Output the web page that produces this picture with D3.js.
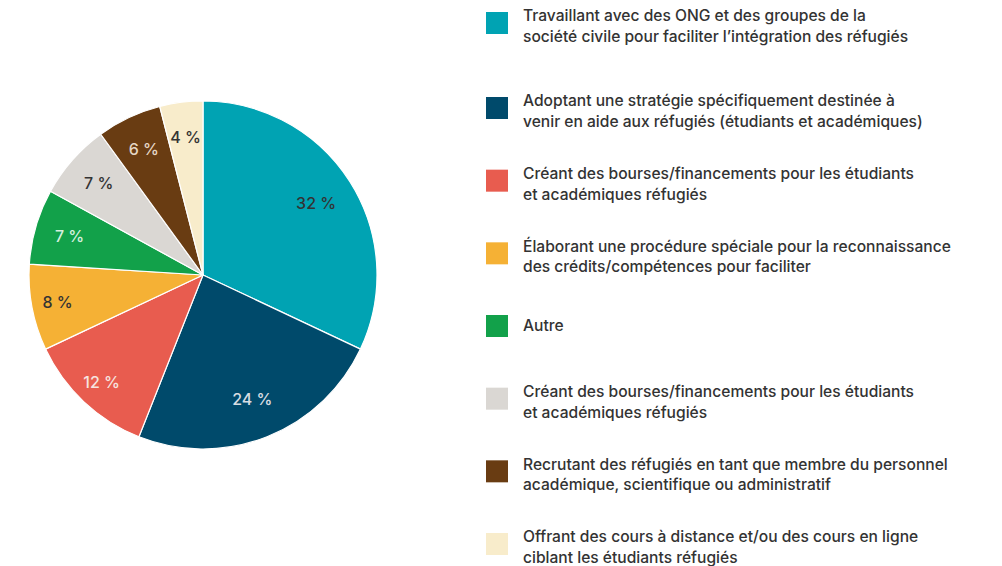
<!DOCTYPE html>
<html>
<head>
<meta charset="utf-8">
<script src="https://cdn.jsdelivr.net/npm/d3@7"></script>
<style>
  body { margin: 0; background: #fff; }
  svg { display: block; }
  text { font-family: Inter, "Open Sans", sans-serif; }
</style>
</head>
<body>
<svg width="1002" height="566"></svg>
<script>
var width = 1002
var height = 566

// parts of the pie, in drawing order (clockwise from the top)
var values = [32, 24, 12, 8, 7, 7, 6, 4]
var colors = ["#00a3b3", "#004a6b", "#e85c4f", "#f5b135", "#12a14a", "#dad7d3", "#693c12", "#f8eccb"]
var labelColors = ["#333333", "#d8dde2", "#f6e3df", "#333333", "#d6efdd", "#333333", "#e5d6c4", "#333333"]

var legendLines = [
  ["Travaillant avec des ONG et des groupes de la", "société civile pour faciliter l’intégration des réfugiés"],
  ["Adoptant une stratégie spécifiquement destinée à", "venir en aide aux réfugiés (étudiants et académiques)"],
  ["Créant des bourses/financements pour les étudiants", "et académiques réfugiés"],
  ["Élaborant une procédure spéciale pour la reconnaissance", "des crédits/compétences pour faciliter"],
  ["Autre"],
  ["Créant des bourses/financements pour les étudiants", "et académiques réfugiés"],
  ["Recrutant des réfugiés en tant que membre du personnel", "académique, scientifique ou administratif"],
  ["Offrant des cours à distance et/ou des cours en ligne", "ciblant les étudiants réfugiés"]
]

var svg = d3.select("svg")

var cx = 203, cy = 275, radius = 174

var pie = d3.pie().sort(null).value(function(d) { return d; })
var arcs = pie(values)

var arc = d3.arc().innerRadius(0).outerRadius(radius)
// small slices on the left carry their labels a bit further out
var labelR = function(d) { return d.data >= 24 ? 134 : (d.data >= 8 ? 148 : 139); }

var g = svg.append("g")
    .attr("transform", "translate(" + cx + "," + cy + ")")

g.selectAll(".slice")
  .data(arcs)
  .enter().append("path")
    .attr("class", "slice")
    .attr("d", arc)
    .attr("fill", function(d, i) { return colors[i]; })
    .attr("stroke", "#fff")
    .attr("stroke-width", 1.2)

g.selectAll(".lbl")
  .data(arcs)
  .enter().append("text")
    .attr("class", "lbl")
    .attr("transform", function(d) {
      var r = labelR(d)
      return "translate(" + d3.arc().innerRadius(r).outerRadius(r).centroid(d) + ")";
    })
    .attr("text-anchor", "middle")
    .attr("dy", "0.35em")
    .attr("font-size", 16)
    .attr("font-weight", 500)
    .attr("fill", function(d, i) { return labelColors[i]; })
    .text(function(d) { return d.data + " %"; })

// legend
var rowY = d3.scaleLinear().domain([1, 7]).range([108, 544])
function legendY(i) { return i === 0 ? 23 : rowY(i); }

var leg = svg.selectAll(".leg")
  .data(legendLines)
  .enter().append("g")
    .attr("class", "leg")
    .attr("transform", function(d, i) { return "translate(486," + legendY(i) + ")"; })

leg.append("rect")
    .attr("x", 0)
    .attr("y", -11)
    .attr("width", 22)
    .attr("height", 22)
    .attr("fill", function(d, i) { return colors[i]; })

leg.each(function(lines) {
  var t = d3.select(this).append("text")
      .attr("x", 37)
      .attr("font-size", 15.6)
      .attr("font-weight", 500)
      .attr("fill", "#333")
  var off = lines.length > 1 ? -7 : 0
  lines.forEach(function(line, k) {
    t.append("tspan")
      .attr("x", 37)
      .attr("y", off + k * 20.5)
      .attr("dy", "0.35em")
      .text(line)
  })
})
</script>
</body>
</html>
